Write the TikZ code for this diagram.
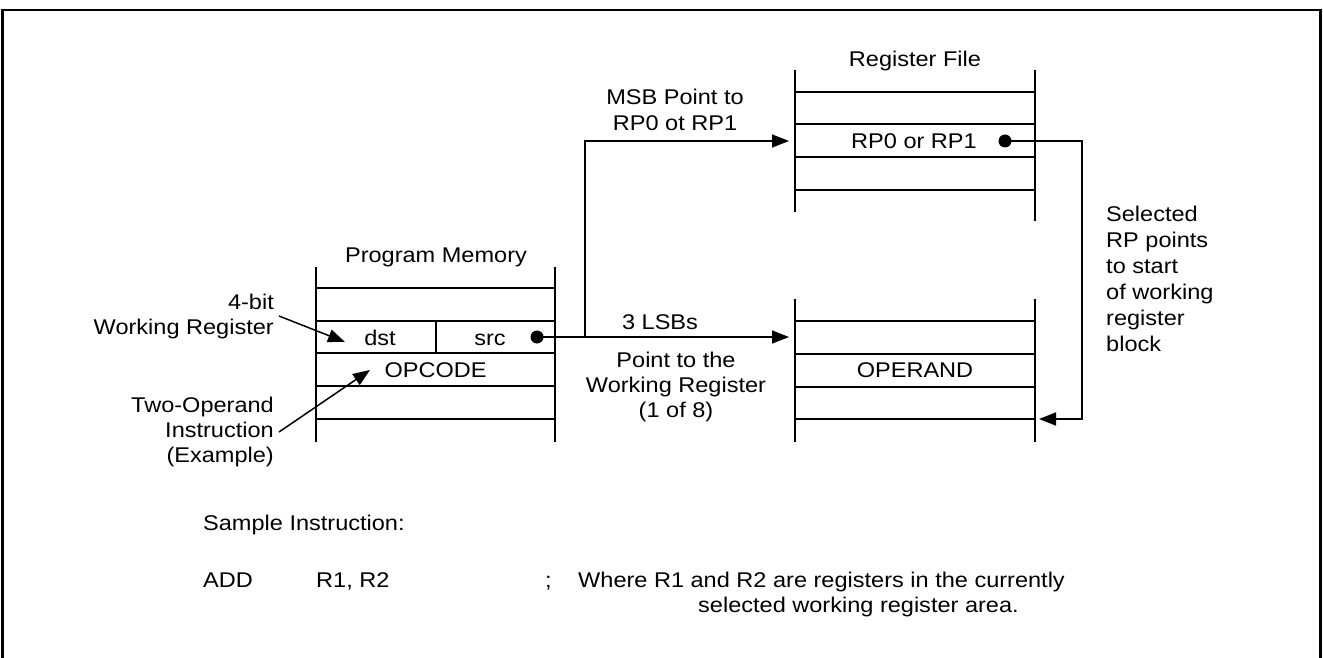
\documentclass[tikz,border=0pt]{standalone}
\usepackage{fontspec}
\setmainfont[FakeStretch=1.105]{Liberation Sans}
\usetikzlibrary{arrows.meta}
\begin{document}
\begin{tikzpicture}[x=1pt,y=-1pt,
  ln/.style={line width=1.5pt},
  arr/.style={line width=1.5pt,-{Triangle[length=17pt,width=13pt]}},
  lbl/.style={inner sep=0pt,font=\fontsize{21.3}{25}\selectfont},
  dotc/.style={circle,fill,inner sep=0pt,minimum size=13pt}]
\useasboundingbox (0,0) rectangle (1323,658);
% outer frame (no bottom edge)
\draw[line width=2.5pt] (2.5,658) -- (2.5,10) -- (1320.5,10) -- (1320.5,658);

% ---- Program Memory ----
\draw[ln] (316,267) -- (316,442) (555,267) -- (555,442);
\foreach \y in {288,321,353,386,419} \draw[ln] (316,\y) -- (555,\y);
\draw[ln] (436,321) -- (436,353);
\node[lbl,anchor=base] (pmlbl) at (436,262) {Program Memory};
\node[lbl,anchor=base] (dst) at (380,345) {dst};
\node[lbl,anchor=base] (src) at (490,345) {src};
\node[lbl,anchor=base] (opcode) at (435.5,377) {OPCODE};

% ---- Register File (top) ----
\draw[ln] (795,70) -- (795,212) (1035,70) -- (1035,221);
\foreach \y in {92,124,157,190} \draw[ln] (795,\y) -- (1035,\y);
\node[lbl,anchor=base] (rflbl) at (915,67) {Register File};
\node[lbl,anchor=base] (rp) at (914,148.5) {RP0 or RP1};

% ---- Working register block (bottom) ----
\draw[ln] (795,299) -- (795,442) (1035,299) -- (1035,442);
\foreach \y in {321,354,387,419} \draw[ln] (795,\y) -- (1035,\y);
\node[lbl,anchor=base] (operand) at (915,377) {OPERAND};

% ---- dots and connectors ----
\node[dotc] (srcdot) at (537,337) {};
\node[dotc] (rpdot) at (1005,141) {};
\coordinate (split) at (585,337);
\coordinate (msbtip) at (789,141);
\coordinate (lsbtip) at (789,337);
\coordinate (rpturn) at (1082,141);
\coordinate (blocktip) at (1039,419);
\draw[arr] (srcdot.center) -- (lsbtip);
\draw[arr] (split) |- (msbtip);
\draw[arr] (rpdot.center) -- (rpturn) |- (blocktip);

% ---- connector labels ----
\node[lbl,anchor=base] (msb1) at (675,104.5) {MSB Point to};
\node[lbl,anchor=base] (msb2) at (675,130.5) {RP0 ot RP1};
\node[lbl,anchor=base] (lsb) at (660,329.5) {3 LSBs};
\node[lbl,anchor=base] (pt1) at (676,367) {Point to the};
\node[lbl,anchor=base] (pt2) at (676,392) {Working Register};
\node[lbl,anchor=base] (pt3) at (676,417) {(1 of 8)};

% ---- right side note ----
\node[lbl,anchor=base west] (s1) at (1106,221) {Selected};
\node[lbl,anchor=base west] (s2) at (1106,247) {RP points};
\node[lbl,anchor=base west] (s3) at (1106,273) {to start};
\node[lbl,anchor=base west] (s4) at (1106,299) {of working};
\node[lbl,anchor=base west] (s5) at (1106,325) {register};
\node[lbl,anchor=base west] (s6) at (1106,351) {block};

% ---- left annotations ----
\node[lbl,anchor=base east] (wr1) at (274,309) {4-bit};
\node[lbl,anchor=base east] (wr2) at (274,334) {Working Register};
\coordinate (wrtail) at (279,316);
\coordinate (wrtip) at (345,342);
\draw[arr] (wrtail) -- (wrtip);
\node[lbl,anchor=base east] (to1) at (274,412) {Two-Operand};
\node[lbl,anchor=base east] (to2) at (274,437) {Instruction};
\node[lbl,anchor=base east] (to3) at (274,462) {(Example)};
\coordinate (totail) at (279,432);
\coordinate (totip) at (370,370);
\draw[arr] (totail) -- (totip);

% ---- sample instruction ----
\node[lbl,anchor=base west] (samp) at (203,530) {Sample Instruction:};
\node[lbl,anchor=base west] (add) at (203,587) {ADD};
\node[lbl,anchor=base west] (ops) at (316,587) {R1, R2};
\node[lbl,anchor=base west] (semi) at (545,587) {;};
\node[lbl,anchor=base west] (c1) at (578,587) {Where R1 and R2 are registers in the currently};
\node[lbl,anchor=base west] (c2) at (698,612) {selected working register area.};
\end{tikzpicture}
\end{document}
